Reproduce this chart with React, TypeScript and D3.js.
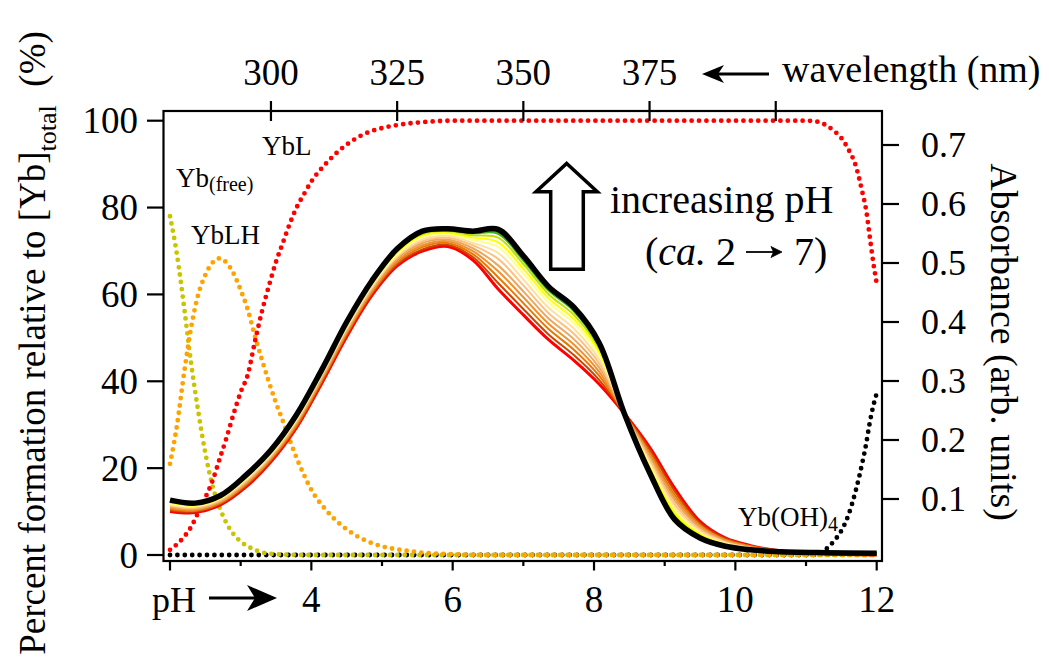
import React from 'react';
import * as d3 from 'd3';

const W = 1050;
const H = 671;

// ---------- species distribution (pH vs % of [Yb]total) ----------
const freePH = [2.0, 2.1, 2.2, 2.3, 2.4, 2.5, 2.6, 2.7, 2.8, 2.9, 3.0, 3.1, 3.2, 3.3, 3.4, 3.6, 4.0, 12.0];
const freePct = [78, 69, 57, 44, 33, 23.5, 16, 11, 7.3, 4.8, 3.1, 2.0, 1.2, 0.6, 0.3, 0.1, 0, 0];

const lhPH = [2.0, 2.1, 2.2, 2.3, 2.4, 2.5, 2.6, 2.7, 2.8, 2.9, 3.0, 3.1, 3.2, 3.3, 3.4, 3.5, 3.6, 3.7, 3.8, 3.9, 4.0, 4.2, 4.4, 4.6, 4.8, 5.0, 5.3, 5.6, 6.0, 6.5, 12.0];
const lhPct = [21, 30, 42, 52.5, 60, 64.5, 67.3, 68.3, 67.3, 64.8, 61, 56.5, 50.5, 45, 39.8, 35, 30.7, 26.2, 22, 18.3, 15, 10.5, 7.2, 4.8, 3.1, 2.0, 1.1, 0.5, 0.2, 0, 0];

const lPH = [2.0, 2.1, 2.2, 2.3, 2.4, 2.5, 2.6, 2.7, 2.8, 2.9, 3.0, 3.1, 3.2, 3.3, 3.4, 3.5, 3.6, 3.7, 3.8, 3.9, 4.0, 4.2, 4.4, 4.6, 4.8, 5.0, 5.3, 5.6, 6.0, 11.0, 11.15, 11.3, 11.4, 11.5, 11.6, 11.7, 11.8, 11.85, 11.9, 11.95, 12.0];
const lPct = [1.2, 2.5, 4.2, 6.5, 9.8, 13.2, 17, 22, 27, 32.5, 37.5, 41.5, 49, 56, 62, 67.5, 72, 76.5, 80.3, 83.2, 86, 90, 93.2, 95.6, 97.3, 98.3, 99.2, 99.7, 100, 100, 99.8, 98.8, 97.6, 96, 93.4, 89.8, 83.3, 79.5, 73.5, 67.5, 62.5];

const ohPH = [2.0, 11.1, 11.2, 11.3, 11.4, 11.5, 11.6, 11.7, 11.8, 11.85, 11.9, 11.95, 12.0];
const ohPct = [0, 0, 0.5, 1.6, 3.3, 5.6, 9.2, 14.6, 21.5, 25.5, 30.3, 34.2, 37.2];

// ---------- absorbance spectra (wavelength nm vs absorbance) ----------
const wavelengths = [280, 285, 290, 295, 300, 305, 310, 315, 320, 325, 330, 335, 340, 345, 350, 355, 360, 365, 370, 375, 380, 385, 390, 395, 400, 410, 420];
const specRed = [0.079, 0.077, 0.090, 0.120, 0.163, 0.220, 0.295, 0.375, 0.445, 0.495, 0.520, 0.528, 0.505, 0.456, 0.412, 0.370, 0.335, 0.295, 0.245, 0.188, 0.118, 0.062, 0.034, 0.021, 0.013, 0.007, 0.005];
const spec1 = [0.081, 0.079, 0.092, 0.122, 0.165, 0.222, 0.297, 0.378, 0.448, 0.498, 0.523, 0.531, 0.510, 0.466, 0.422, 0.379, 0.344, 0.302, 0.245, 0.184, 0.113, 0.059, 0.033, 0.020, 0.013, 0.007, 0.005];
const spec2 = [0.083, 0.080, 0.093, 0.124, 0.167, 0.224, 0.300, 0.380, 0.450, 0.501, 0.527, 0.534, 0.515, 0.476, 0.432, 0.388, 0.353, 0.309, 0.245, 0.179, 0.107, 0.056, 0.031, 0.020, 0.013, 0.007, 0.006];
const spec3 = [0.085, 0.082, 0.095, 0.126, 0.169, 0.227, 0.302, 0.383, 0.453, 0.504, 0.530, 0.537, 0.520, 0.486, 0.442, 0.397, 0.362, 0.316, 0.245, 0.175, 0.102, 0.054, 0.030, 0.019, 0.012, 0.008, 0.006];
const spec4 = [0.087, 0.083, 0.096, 0.128, 0.171, 0.229, 0.304, 0.385, 0.455, 0.507, 0.534, 0.540, 0.525, 0.496, 0.452, 0.406, 0.371, 0.323, 0.245, 0.171, 0.097, 0.051, 0.028, 0.018, 0.012, 0.008, 0.006];
const spec5 = [0.089, 0.085, 0.098, 0.130, 0.173, 0.231, 0.307, 0.388, 0.458, 0.510, 0.537, 0.543, 0.530, 0.507, 0.462, 0.415, 0.380, 0.330, 0.245, 0.167, 0.091, 0.048, 0.027, 0.017, 0.012, 0.008, 0.007];
const spec6 = [0.090, 0.087, 0.100, 0.132, 0.175, 0.233, 0.309, 0.390, 0.460, 0.512, 0.540, 0.546, 0.534, 0.517, 0.472, 0.424, 0.389, 0.337, 0.245, 0.162, 0.086, 0.045, 0.026, 0.017, 0.012, 0.008, 0.007];
const spec7 = [0.092, 0.088, 0.101, 0.134, 0.177, 0.235, 0.311, 0.393, 0.463, 0.515, 0.544, 0.549, 0.539, 0.527, 0.482, 0.433, 0.398, 0.344, 0.245, 0.158, 0.081, 0.042, 0.024, 0.016, 0.012, 0.008, 0.007];
const spec8 = [0.094, 0.089, 0.102, 0.136, 0.179, 0.237, 0.313, 0.395, 0.465, 0.518, 0.547, 0.551, 0.543, 0.535, 0.490, 0.440, 0.405, 0.350, 0.245, 0.154, 0.077, 0.040, 0.023, 0.016, 0.011, 0.009, 0.007];
const spec9 = [0.095, 0.091, 0.104, 0.137, 0.180, 0.239, 0.315, 0.397, 0.467, 0.520, 0.549, 0.554, 0.547, 0.543, 0.498, 0.447, 0.412, 0.355, 0.245, 0.151, 0.072, 0.038, 0.022, 0.015, 0.011, 0.009, 0.008];
const spec10 = [0.097, 0.092, 0.105, 0.139, 0.182, 0.240, 0.316, 0.398, 0.468, 0.522, 0.552, 0.556, 0.551, 0.550, 0.505, 0.454, 0.419, 0.360, 0.245, 0.148, 0.069, 0.036, 0.021, 0.014, 0.011, 0.009, 0.008];
const spec11 = [0.097, 0.093, 0.106, 0.139, 0.182, 0.241, 0.317, 0.399, 0.469, 0.523, 0.553, 0.557, 0.553, 0.554, 0.509, 0.457, 0.422, 0.363, 0.245, 0.146, 0.067, 0.035, 0.020, 0.014, 0.011, 0.009, 0.008];
const specBlack = [0.098, 0.093, 0.106, 0.140, 0.183, 0.242, 0.318, 0.400, 0.470, 0.524, 0.554, 0.558, 0.554, 0.557, 0.512, 0.460, 0.425, 0.365, 0.245, 0.145, 0.065, 0.034, 0.020, 0.014, 0.011, 0.009, 0.008];

const spectra = [specRed, spec1, spec2, spec3, spec4, spec5, spec6, spec7, spec8, spec9, spec10, spec11, specBlack];
const spectraColors = ['#ff0000', '#cc4400', '#e87800', '#f09030', '#e8a860', '#ffc080', '#ffe0a0', '#ffff90', '#ffff00', '#c0e000', '#40b020', '#008000', '#000000'];
const spectraWidths = [3, 2, 2, 2, 2, 2, 2, 2, 2, 2, 2.5, 2.5, 5.5];

// ---------- axes ----------
const leftTicks = [0, 20, 40, 60, 80, 100];
const rightTicks = [0.1, 0.2, 0.3, 0.4, 0.5, 0.6, 0.7];
const bottomTicks = [2, 3, 4, 5, 6, 7, 8, 9, 10, 11, 12];
const bottomLabels = [4, 6, 8, 10, 12];
const topTicks = [300, 325, 350, 375, 400];
const topLabels = [300, 325, 350, 375];

const FONT = "'Liberation Serif', 'Times New Roman', 'DejaVu Serif', serif";
const BOX = { left: 163.5, right: 882, top: 111, bottom: 561 };

const xPH = d3.scaleLinear().domain([2, 12]).range([170, 876.7]);
const xWL = d3.scaleLinear().domain([280, 420]).range([170, 876.7]);
const yPct = d3.scaleLinear().domain([0, 100]).range([555, 120.7]);
const yAbs = d3.scaleLinear().domain([0, 0.7]).range([558, 145]);

const speciesLine = d3
  .line<[number, number]>()
  .x((d) => xPH(d[0]))
  .y((d) => yPct(d[1]))
  .curve(d3.curveMonotoneX);

const specLine = d3
  .line<[number, number]>()
  .x((d) => xWL(d[0]))
  .y((d) => yAbs(d[1]))
  .curve(d3.curveCatmullRom.alpha(0.5));

const zip = (a: number[], b: number[]) => a.map((v, i) => [v, b[i]] as [number, number]);

const species = [
  { ph: ohPH, pct: ohPct, color: '#000000' },
  { ph: freePH, pct: freePct, color: '#c8c400' },
  { ph: lhPH, pct: lhPct, color: '#ffa200' },
  { ph: lPH, pct: lPct, color: '#ff0000' },
];

export default function App() {
  return (
    <svg
      width={W}
      height={H}
      style={{ position: 'absolute', left: 0, top: 0, background: '#fff' }}
      fontFamily={FONT}
    >
      <rect x={0} y={0} width={W} height={H} fill="#fff" />

      {/* species dotted curves */}
      {species.map((s, i) => (
        <path
          key={'sp' + i}
          d={speciesLine(zip(s.ph, s.pct)) || ''}
          fill="none"
          stroke={s.color}
          strokeWidth={4.8}
          strokeLinecap="round"
          strokeDasharray="0 7.4"
        />
      ))}

      {/* spectra */}
      {spectra.map((s, i) => (
        <path
          key={'spec' + i}
          d={specLine(zip(wavelengths, s)) || ''}
          fill="none"
          stroke={spectraColors[i]}
          strokeWidth={spectraWidths[i]}
          strokeLinejoin="round"
        />
      ))}

      {/* frame */}
      <rect
        x={BOX.left}
        y={BOX.top}
        width={BOX.right - BOX.left}
        height={BOX.bottom - BOX.top}
        fill="none"
        stroke="#000"
        strokeWidth={2.2}
      />

      {/* left axis */}
      {leftTicks.map((t) => (
        <g key={'l' + t}>
          <line x1={147} x2={BOX.left} y1={yPct(t)} y2={yPct(t)} stroke="#000" strokeWidth={2.2} />
          <text x={138} y={yPct(t) + 12.5} textAnchor="end" fontSize={37}>
            {t}
          </text>
        </g>
      ))}

      {/* right axis */}
      {rightTicks.map((t) => (
        <g key={'r' + t}>
          <line x1={BOX.right} x2={899} y1={yAbs(t)} y2={yAbs(t)} stroke="#000" strokeWidth={2.2} />
          <text x={921} y={yAbs(t) + 12} textAnchor="start" fontSize={36}>
            {t.toFixed(1)}
          </text>
        </g>
      ))}

      {/* bottom axis */}
      {bottomTicks.map((t) => (
        <line
          key={'b' + t}
          x1={xPH(t)}
          x2={xPH(t)}
          y1={BOX.bottom}
          y2={BOX.bottom + (t % 2 === 0 ? 9.5 : 5)}
          stroke="#000"
          strokeWidth={2.2}
        />
      ))}
      {bottomLabels.map((t) => (
        <text key={'bl' + t} x={xPH(t)} y={612} textAnchor="middle" fontSize={37}>
          {t}
        </text>
      ))}
      <text x={152} y={612} fontSize={36}>
        pH
      </text>
      <line x1={209} x2={262} y1={598} y2={598} stroke="#000" strokeWidth={2.8} />
      <path d="M 277 598 L 247 585 L 255 598 L 247 611 Z" fill="#000" />

      {/* top axis */}
      {topTicks.map((t) => (
        <line key={'t' + t} x1={xWL(t)} x2={xWL(t)} y1={101} y2={121} stroke="#000" strokeWidth={2.2} />
      ))}
      {topLabels.map((t) => (
        <text key={'tl' + t} x={xWL(t)} y={85} textAnchor="middle" fontSize={37}>
          {t}
        </text>
      ))}
      <line x1={716} x2={769} y1={74} y2={74} stroke="#000" strokeWidth={2.8} />
      <path d="M 702 74 L 724 65 L 718 74 L 724 83 Z" fill="#000" />
      <text x={782} y={82} fontSize={38}>
        wavelength (nm)
      </text>

      {/* axis titles */}
      <text transform="translate(45,343) rotate(-90)" textAnchor="middle" fontSize={37}>
        Percent formation relative to [Yb]
        <tspan fontSize={26} dy={11}>
          total
        </tspan>
        <tspan dy={-11}>{'\u00a0\u00a0(%)'}</tspan>
      </text>
      <text transform="translate(991,342) rotate(90)" textAnchor="middle" fontSize={38}>
        Absorbance (arb. units)
      </text>

      {/* species labels */}
      <text x={176} y={187} fontSize={27}>
        Yb
        <tspan fontSize={20} dy={4}>
          (free)
        </tspan>
      </text>
      <text x={262} y={155} fontSize={27}>
        YbL
      </text>
      <text x={191} y={244} fontSize={27}>
        YbLH
      </text>
      <text x={738} y={526} fontSize={27}>
        Yb(OH)
        <tspan fontSize={20} dy={5}>
          4
        </tspan>
      </text>

      {/* block arrow */}
      <path
        d="M 566.7 163.5 L 597.3 191.7 L 583.3 191.7 L 583.3 269.3 L 550.7 269.3 L 550.7 191.7 L 536 191.7 Z"
        fill="#fff"
        stroke="#000"
        strokeWidth={3.5}
        strokeLinejoin="miter"
      />
      <text x={610} y={213} fontSize={40}>
        increasing pH
      </text>
      <text x={736} y={265} textAnchor="end" fontSize={40}>
        (<tspan fontStyle="italic">ca.</tspan> 2
      </text>
      <line x1={746} x2={777} y1={252} y2={252} stroke="#000" strokeWidth={1.8} />
      <path d="M 782 252 L 771 246.5 L 773.5 252 L 771 257.5 Z" fill="#000" stroke="#000" strokeWidth={0.8} />
      <text x={794} y={265} textAnchor="start" fontSize={40}>
        7)
      </text>
    </svg>
  );
}
